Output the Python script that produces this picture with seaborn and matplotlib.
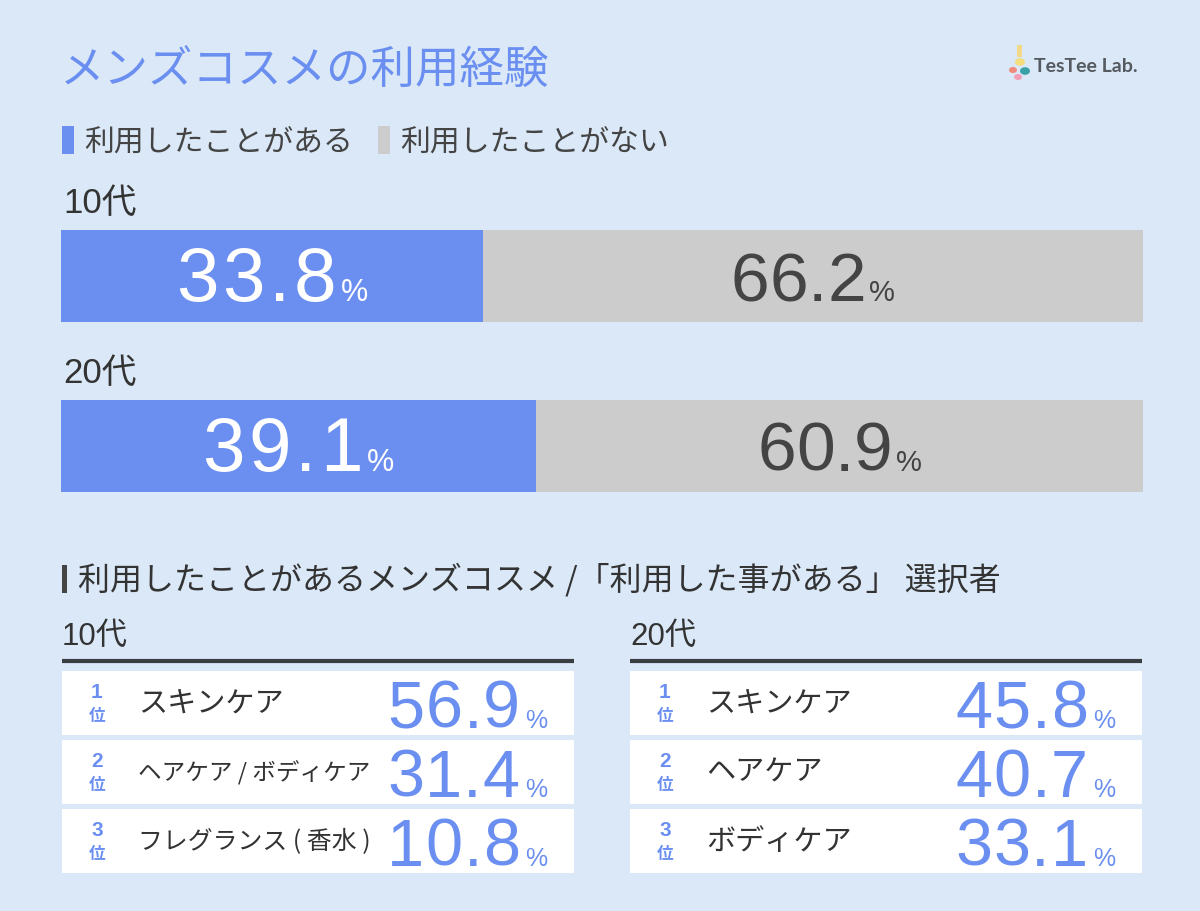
import matplotlib
matplotlib.use("Agg")
import matplotlib.pyplot as plt
import seaborn as sns
import pandas as pd
from matplotlib.patches import Rectangle, Circle
from matplotlib.lines import Line2D

# ---------------- data ----------------
ages = ["10代", "20代"]
used = [33.8, 39.1]
not_used = [66.2, 60.9]
legend_labels = ["利用したことがある", "利用したことがない"]

ranks = ["1", "2", "3"]
items_10 = ["スキンケア", "ヘアケア / ボディケア", "フレグランス ( 香水 )"]
values_10 = [56.9, 31.4, 10.8]
items_20 = ["スキンケア", "ヘアケア", "ボディケア"]
values_20 = [45.8, 40.7, 33.1]

title = "メンズコスメの利用経験"
section_title = "利用したことがあるメンズコスメ /「利用した事がある」 選択者"
brand = "TesTee Lab."

# ---------------- style ----------------
W, H = 1200, 912
BG = "#dae8f7"
BLUE = "#6b8ff0"
GRAY = "#cccccc"
DARK = "#333333"
JP = ["Noto Sans CJK JP", "DejaVu Sans"]
NUM = ["Liberation Sans", "DejaVu Sans"]
MIX = ["Liberation Sans", "Noto Sans CJK JP", "DejaVu Sans"]
PAD = 8.5  # left padding of the bar track (axis units)

sns.set_theme(style="white")
plt.rcParams["font.family"] = JP

fig = plt.figure(figsize=(12, 9.12), dpi=100)
fig.patch.set_facecolor(BG)
renderer = fig.canvas.get_renderer()


def fx(x):
    return x / W


def fy(y):
    return 1 - y / H


def ftext(x, y, s, **kw):
    return fig.text(fx(x), fy(y), s, **kw)


def frect(x0, y0, x1, y1, color):
    fig.patches.append(Rectangle((fx(x0), fy(y1)), (x1 - x0) / W, (y1 - y0) / H,
                                 transform=fig.transFigure, facecolor=color,
                                 edgecolor="none", zorder=0))


def width_px(t):
    return t.get_window_extent(renderer).width


def number_pair(x, y, num, num_size, pct_size, color, align="center", gap=4, track=0):
    """Draw 'num' (with letter tracking) + small '%' on baseline y (pixels)."""
    chars = []
    for ch in num:
        t = ftext(0, y, ch, fontsize=num_size, color=color, family=NUM,
                  ha="left", va="baseline")
        chars.append((t, width_px(t)))
    tp = ftext(0, y, "%", fontsize=pct_size, color=color, family=NUM,
               ha="left", va="baseline")
    wp = width_px(tp)
    wn = sum(w for _, w in chars) + track * (len(chars) - 1)
    left = x - (wn + gap + wp) / 2 if align == "center" else x - wn
    cur = left
    for t, w in chars:
        t.set_position((fx(cur), fy(y)))
        cur += w + track
    tp.set_position((fx(left + wn + gap), fy(y)))


# ---------------- header ----------------
ftext(60, 70, title, fontsize=32, color=BLUE, ha="left", va="center")

# logo
ftext(1034, 66, brand, fontsize=14, color="#555a60", family=["Lato", "DejaVu Sans"],
      weight="bold", ha="left", va="center")
fig.patches.append(Rectangle((fx(1017), fy(58)), 5 / W, 12 / H, transform=fig.transFigure,
                             facecolor="#f2d98a", edgecolor="none"))
for cx, cy, r, c in [(1020, 63, 5, "#f4dd7c"), (1013, 71, 4, "#f08a7a"),
                     (1025, 72, 5, "#3aa0a8"), (1018, 78, 4, "#f2a0b8")]:
    fig.patches.append(Circle((fx(cx), fy(cy)), r / W, transform=fig.transFigure,
                              facecolor=c, edgecolor="none"))

# legend
frect(62, 127, 74, 155, BLUE)
ftext(84, 142, legend_labels[0], fontsize=21.5, color="#444444", ha="left", va="center")
frect(378, 127, 390, 155, GRAY)
ftext(400, 142, legend_labels[1], fontsize=21.5, color="#444444", ha="left", va="center")

# ---------------- stacked bars ----------------
ax = fig.add_axes([fx(61), fy(532), (1143 - 61) / W, (532 - 192) / H])
ax.set_facecolor("none")
df = pd.DataFrame({"age": ages, "used": used, "not_used": not_used})
df["total"] = df["used"] + df["not_used"]
sns.barplot(data=df, y="age", x="total", color=GRAY, orient="h", width=0.54,
            saturation=1, linewidth=0, ax=ax)
ax.barh(range(len(ages)), [u + PAD for u in df["used"]], left=-PAD, height=0.54,
        color=BLUE, linewidth=0)
ax.set_xlim(-PAD, 100)
ax.set_ylim(1.5, -0.5)
ax.axis("off")

px_per_unit = (532 - 192) / 2
for i, row in df.iterrows():
    yc = 192 + (i + 0.5) * px_per_unit
    ftext(63, yc - 74, row["age"], fontsize=25, color=DARK, family=MIX,
          ha="left", va="center")
    x_blue = ax.transData.transform(((-PAD + row["used"]) / 2, 0))[0]
    x_gray = ax.transData.transform(((row["used"] + row["total"]) / 2, 0))[0]
    number_pair(x_blue, yc + 24, f"{row['used']:.1f}", 55, 22, "white", track=4)
    number_pair(x_gray, yc + 24, f"{row['not_used']:.1f}", 50, 21, "#444444",
                track=0, gap=3)

# ---------------- ranking section ----------------
frect(62, 566, 67, 594, "#444444")
ftext(78, 580, section_title, fontsize=23, color=DARK, ha="left", va="center")

tables = [(0, ages[0], items_10, values_10), (568, ages[1], items_20, values_20)]
for off, age, items, vals in tables:
    ftext(62 + off, 637, age, fontsize=22.5, color=DARK, family=MIX,
          ha="left", va="center")
    x0, x1 = 62 + off, 574 + off
    fig.lines.append(Line2D([fx(x0), fx(x1)], [fy(662), fy(662)], transform=fig.transFigure,
                            color="#3a3d42", linewidth=3, solid_capstyle="butt"))
    for j, (rk, name, v) in enumerate(zip(ranks, items, vals)):
        top = 672 + j * 69
        frect(x0, top, x1, top + 64, "white")
        ftext(97 + off, top + 21, rk, fontsize=15, color=BLUE, family=NUM, weight="bold",
              ha="center", va="center")
        ftext(97 + off, top + 44, "位", fontsize=12, color=BLUE, weight="bold",
              ha="center", va="center")
        t = ftext(138 + off, top + 32, name, fontsize=21, color=DARK, ha="left", va="center")
        w = width_px(t)
        if w > 232:
            t.set_fontsize(21 * 232 / w)
        number_pair(520 + off, top + 56, f"{v:.1f}", 48, 18, BLUE, align="right",
                    gap=5, track=1)

fig.savefig("out.png", dpi=100, facecolor=BG)
